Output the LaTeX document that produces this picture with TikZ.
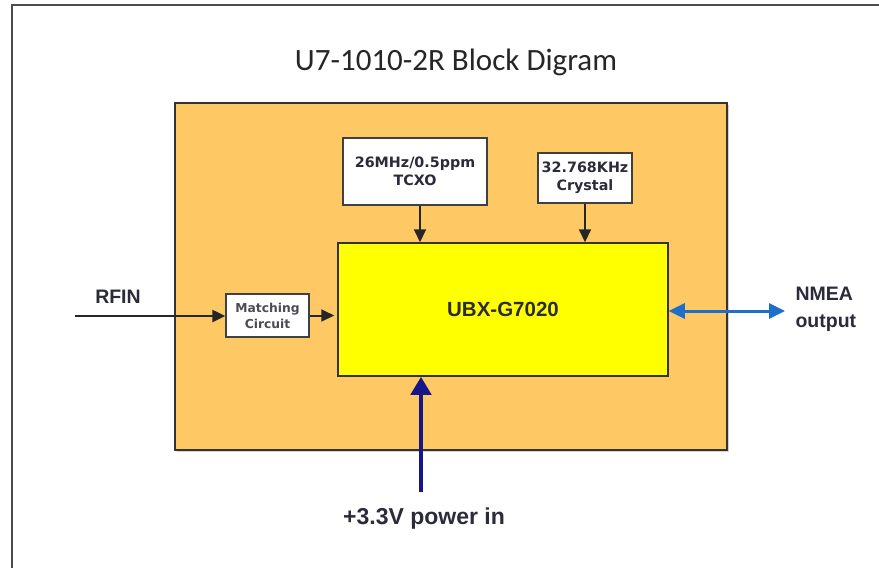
\documentclass[tikz,border=0pt]{standalone}
\usepackage{fontspec}
\setmainfont{Liberation Sans}
\newfontfamily\titlefont{Carlito}
\newfontfamily\boxfont{DejaVu Sans}
\usetikzlibrary{arrows.meta,shadows}
\definecolor{boardorange}{HTML}{FEC864}
\definecolor{chipyellow}{HTML}{FFFF00}
\definecolor{nmeablue}{HTML}{1E6FCC}
\definecolor{pwrnavy}{HTML}{16168A}
\definecolor{boxtext}{HTML}{2B2B3A}
\tikzset{
  board/.style={draw=black!80, line width=2.5pt, fill=boardorange, inner sep=0pt,
    drop shadow={shadow xshift=1.5pt, shadow yshift=-1.5pt, opacity=0.35}},
  chip/.style={draw=black!80, line width=1.5pt, fill=chipyellow, inner sep=0pt,
    font=\fontsize{20.5}{24}\selectfont\bfseries, text=boxtext},
  smallbox/.style={draw=black!75, line width=1.5pt, fill=white, inner sep=0pt, align=center,
    text=boxtext, font=\boxfont\bfseries\fontsize{14.3}{18}\selectfont},
  matchbox/.style={draw=black!75, line width=1.5pt, fill=white, inner sep=0pt, align=center,
    text=boxtext!85, font=\boxfont\bfseries\fontsize{12.3}{16}\selectfont},
  lbl/.style={font=\fontsize{19.5}{27}\selectfont\bfseries, text=boxtext},
  blackarrow/.style={draw=black!85, line width=2pt, -{Triangle[length=13pt,width=12pt]}},
}
\begin{document}
\begin{tikzpicture}[x=1pt,y=-1pt]
\useasboundingbox[fill=white] (0,0) rectangle (879,568);
\draw[line width=2pt, black!70] (879,5) -- (12,5) -- (12,568);
\node[font=\titlefont\fontsize{31}{34}\selectfont, text=black!85] (title) at (456,62) {U7-1010-2R Block Digram};
\node[board, minimum width=552pt, minimum height=347pt] (board) at (451,276.5) {};
\node[chip, minimum width=330pt, minimum height=133pt] (ubx) at (503,309.5) {UBX-G7020};
\node[smallbox, minimum width=144pt, minimum height=67pt] (tcxo) at (415,171.5) {26MHz/0.5ppm\\TCXO};
\node[smallbox, minimum width=94pt, minimum height=50pt] (crystal) at (585,178) {32.768KHz\\Crystal};
\node[matchbox, minimum width=83pt, minimum height=43pt] (match) at (267.5,315.5) {Matching\\Circuit};
% connectors
\draw[blackarrow] ([xshift=5pt]tcxo.south) -- ([xshift=5pt]tcxo.south |- ubx.north);
\draw[blackarrow] (crystal.south) -- (crystal.south |- ubx.north);
\coordinate (rfin) at (75,316);
\draw[blackarrow, line width=2.5pt] (rfin) -- (rfin -| match.west);
\draw[blackarrow] (match.east) -- ([xshift=-3pt]match.east -| ubx.west);
\coordinate (nmea) at (785,311);
\draw[nmeablue, line width=3pt, {Triangle[length=16pt,width=15pt]}-{Triangle[length=16pt,width=15pt]}] (ubx.east |- nmea) -- (nmea);
\coordinate (pin) at (421,492);
\draw[pwrnavy, line width=4.5pt, -{Triangle[length=18pt,width=20pt]}] (pin) -- (pin |- ubx.south);
% labels
\node[lbl] (rfinlbl) at (118,297) {RFIN};
\node[lbl, anchor=west, align=left] (nmealbl) at (792,309) {NMEA\\output};
\node[lbl, font=\fontsize{23}{27}\selectfont\bfseries] (pwrlbl) at (424,519) {+3.3V power in};
\end{tikzpicture}
\end{document}
